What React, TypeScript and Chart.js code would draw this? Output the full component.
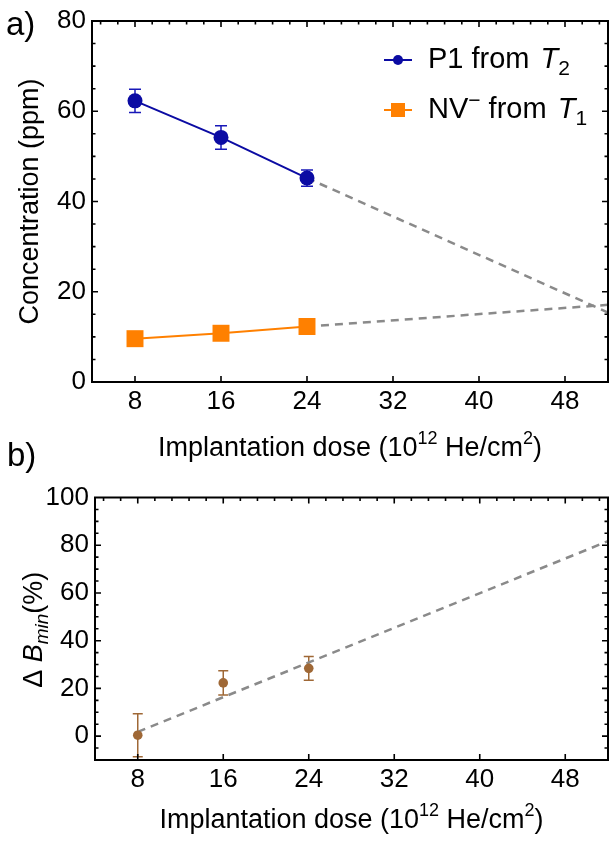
import React, { useEffect, useRef } from "react";
import { Chart, registerables } from "chart.js";

Chart.register(...registerables);

// ---------------- data ----------------
const doses = [8, 16, 24];
const p1Conc = [62.3, 54.2, 45.2];
const p1Err = [2.6, 2.6, 1.8];
const nvConc = [9.6, 10.8, 12.3];
const fitDoses = [24, 52];
const p1Fit = [45.2, 15.4];
const nvFit = [12.3, 17.1];
const doseTicks = [8, 16, 24, 32, 40, 48];
const concTicks = [0, 20, 40, 60, 80];

const dbDoses = [8, 16, 24];
const dbValues = [0.4, 22.3, 28.4];
const dbErr = [9.0, 5.1, 5.0];
const dbFitDoses = [8, 52];
const dbFit = [1.8, 81.7];
const dbTicks = [0, 20, 40, 60, 80, 100];

// ---------------- styles ----------------
const FONT = '"Liberation Sans", Arial, Helvetica, sans-serif';
const BLUE = "#0b0ba3";
const ORANGE = "#ff8000";
const BROWN = "#9f6836";
const GRAY = "#8a8a8a";
const TICK_FONT = { family: FONT, size: 26 };

type Seg = { t: string; size: number; italic?: boolean; dy?: number; dx?: number };

function fontOf(s: Seg) {
  return `${s.italic ? "italic " : ""}${s.size}px ${FONT}`;
}

function drawRich(ctx: CanvasRenderingContext2D, segs: Seg[], x: number, y: number, align: "left" | "center") {
  ctx.textAlign = "left";
  ctx.textBaseline = "alphabetic";
  const widths = segs.map((s) => {
    ctx.font = fontOf(s);
    return ctx.measureText(s.t).width + (s.dx || 0);
  });
  const total = widths.reduce((a, b) => a + b, 0);
  let cx = align === "center" ? x - total / 2 : x;
  segs.forEach((s, i) => {
    ctx.font = fontOf(s);
    ctx.fillText(s.t, cx + (s.dx || 0), y + (s.dy || 0));
    cx += widths[i];
  });
}

// pins the right edge of the plot frame
const areaPlugin = {
  id: "area",
  afterLayout(chart: any, _args: any, opts: any) {
    if (!opts || opts.right == null) return;
    const ca = chart.chartArea;
    ca.right = opts.right;
    ca.width = ca.right - ca.left;
    const xs = chart.scales.x;
    xs.right = opts.right;
    xs.width = xs.right - xs.left;
    xs.configure();
  },
};

const errorBarPlugin = {
  id: "errorBars",
  beforeDatasetsDraw(chart: any) {
    const ctx = chart.ctx;
    const xs = chart.scales.x;
    const ys = chart.scales.y;
    chart.data.datasets.forEach((ds: any) => {
      if (!ds.errors) return;
      ctx.save();
      ctx.strokeStyle = ds.errColor;
      ctx.lineWidth = ds.errWidth || 1.5;
      ds.data.forEach((p: any, i: number) => {
        const e = ds.errors[i];
        const px = xs.getPixelForValue(p.x);
        const pTop = ys.getPixelForValue(p.y + e);
        const pBot = ys.getPixelForValue(p.y - e);
        const h = ds.capHalf;
        ctx.beginPath();
        ctx.moveTo(px, pTop);
        ctx.lineTo(px, pBot);
        ctx.moveTo(px - h, pTop);
        ctx.lineTo(px + h, pTop);
        ctx.moveTo(px - h, pBot);
        ctx.lineTo(px + h, pBot);
        ctx.stroke();
      });
      ctx.restore();
    });
  },
};

const framePlugin = {
  id: "frame",
  afterDraw(chart: any, _args: any, opts: any) {
    const ctx = chart.ctx;
    const { left, right, top, bottom } = chart.chartArea;
    const xs = chart.scales.x;
    const ys = chart.scales.y;
    ctx.save();
    ctx.strokeStyle = "#000";
    ctx.lineWidth = 2;
    ctx.strokeRect(left, top, right - left, bottom - top);
    ctx.lineWidth = 1.6;
    const MAJ = 6;
    const MIN = 3.5;
    ctx.beginPath();
    opts.xMajor.forEach((v: number) => {
      const px = xs.getPixelForValue(v);
      ctx.moveTo(px, bottom);
      ctx.lineTo(px, bottom - MAJ);
    });
    const xStart = opts.xMajor[0] - Math.floor((opts.xMajor[0] - xs.min) / opts.xMinorStep) * opts.xMinorStep;
    for (let k = 0; ; k++) {
      const v = xStart + k * opts.xMinorStep;
      if (v > xs.max - 1e-6) break;
      if (v <= xs.min + 1e-6) continue;
      const isMaj = opts.xMajor.some((m: number) => Math.abs(m - v) < 1e-6);
      const px = xs.getPixelForValue(v);
      ctx.moveTo(px, top);
      ctx.lineTo(px, top + (isMaj ? MAJ : MIN));
    }
    const yStart = opts.yMajor[0] - Math.floor((opts.yMajor[0] - ys.min) / opts.yMinorStep) * opts.yMinorStep;
    for (let k = 0; ; k++) {
      const v = yStart + k * opts.yMinorStep;
      if (v > ys.max - 1e-6) break;
      if (v <= ys.min + 1e-6) continue;
      const isMaj = opts.yMajor.some((m: number) => Math.abs(m - v) < 1e-6);
      const py = ys.getPixelForValue(v);
      const len = isMaj ? MAJ : MIN;
      ctx.moveTo(left, py);
      ctx.lineTo(left + len, py);
      ctx.moveTo(right, py);
      ctx.lineTo(right - len, py);
    }
    ctx.stroke();
    ctx.restore();
  },
};

const textPlugin = {
  id: "texts",
  afterDraw(chart: any, _args: any, opts: any) {
    const ctx = chart.ctx;
    const { left, right, top, bottom } = chart.chartArea;
    ctx.save();
    ctx.fillStyle = "#000";
    drawRich(ctx, [{ t: opts.panel, size: 33 }], opts.panelX, opts.panelY, "left");
    drawRich(ctx, opts.xTitle, (left + right) / 2, opts.xTitleY, "center");
    ctx.save();
    ctx.translate(opts.yTitleX, (top + bottom) / 2 + (opts.yTitleDy || 0));
    ctx.rotate(-Math.PI / 2);
    drawRich(ctx, opts.yTitle, 0, 0, "center");
    ctx.restore();
    (opts.legend || []).forEach((it: any) => {
      ctx.save();
      ctx.strokeStyle = it.color;
      ctx.fillStyle = it.color;
      ctx.lineWidth = 2;
      ctx.beginPath();
      ctx.moveTo(it.x0, it.y);
      ctx.lineTo(it.x0 + 28, it.y);
      ctx.stroke();
      const cx = it.x0 + 14;
      if (it.shape === "circle") {
        ctx.beginPath();
        ctx.arc(cx, it.y, 5, 0, Math.PI * 2);
        ctx.fill();
      } else {
        ctx.fillRect(cx - 7, it.y - 7, 14, 14);
      }
      ctx.restore();
      ctx.fillStyle = "#000";
      drawRich(ctx, it.segs, it.textX, it.y + 8, "left");
    });
    ctx.restore();
  },
};

const xTitleSegs: Seg[] = [
  { t: "Implantation dose (10", size: 27 },
  { t: "12", size: 18, dy: -12 },
  { t: " He/cm", size: 27 },
  { t: "2", size: 18, dy: -12 },
  { t: ")", size: 27 },
];

function baseScales(yMin: number, yMax: number, yTicks: number[], yWidth: number, xHeight: number) {
  return {
    x: {
      type: "linear",
      min: 4,
      max: 52,
      grid: { display: false, drawTicks: false },
      border: { display: false },
      afterBuildTicks: (s: any) => {
        s.ticks = doseTicks.map((v) => ({ value: v }));
      },
      afterFit: (s: any) => {
        s.height = xHeight;
        s.paddingLeft = 0;
        s.paddingRight = 0;
      },
      ticks: {
        font: TICK_FONT,
        color: "#000",
        padding: 4,
        maxRotation: 0,
        autoSkip: false,
        callback: (v: any) => String(v),
      },
    },
    y: {
      type: "linear",
      min: yMin,
      max: yMax,
      grid: { display: false, drawTicks: false },
      border: { display: false },
      afterBuildTicks: (s: any) => {
        s.ticks = yTicks.map((v) => ({ value: v }));
      },
      afterFit: (s: any) => {
        s.width = yWidth;
        s.paddingTop = 0;
        s.paddingBottom = 0;
      },
      ticks: {
        font: TICK_FONT,
        color: "#000",
        padding: 6,
        autoSkip: false,
        callback: (v: any) => String(v),
      },
    },
  };
}

export default function App() {
  const refA = useRef<HTMLCanvasElement>(null);
  const refB = useRef<HTMLCanvasElement>(null);

  useEffect(() => {
    const chartA = new Chart(refA.current as HTMLCanvasElement, {
      type: "line",
      data: {
        datasets: [
          {
            label: "P1 from T2",
            data: doses.map((x, i) => ({ x, y: p1Conc[i] })),
            errors: p1Err,
            errColor: "#1818b8",
            capHalf: 6,
            borderColor: BLUE,
            backgroundColor: BLUE,
            borderWidth: 2,
            pointStyle: "circle",
            pointRadius: 7.5,
            pointBorderWidth: 0,
            order: 1,
          },
          {
            label: "NV- from T1",
            data: doses.map((x, i) => ({ x, y: nvConc[i] })),
            borderColor: ORANGE,
            backgroundColor: ORANGE,
            borderWidth: 2,
            pointStyle: "rect",
            pointRadius: 12,
            pointBorderWidth: 0,
            order: 1,
          },
          {
            label: "P1 fit",
            data: fitDoses.map((x, i) => ({ x, y: p1Fit[i] })),
            borderColor: GRAY,
            borderDash: [8, 6],
            borderWidth: 2.5,
            pointRadius: 0,
            order: 2,
          },
          {
            label: "NV fit",
            data: fitDoses.map((x, i) => ({ x, y: nvFit[i] })),
            borderColor: GRAY,
            borderDash: [8, 6],
            borderWidth: 2.5,
            pointRadius: 0,
            order: 2,
          },
        ],
      } as any,
      options: {
        responsive: false,
        animation: false,
        devicePixelRatio: 1,
        layout: { padding: { top: 21, right: 1, left: 0, bottom: 0 } },
        plugins: {
          legend: { display: false },
          tooltip: { enabled: false },
          area: { right: 608 },
          frame: { xMajor: doseTicks, xMinorStep: 1.6, yMajor: concTicks, yMinorStep: 5 },
          texts: {
            panel: "a)",
            panelX: 6,
            panelY: 35,
            xTitle: xTitleSegs,
            xTitleY: 456,
            yTitle: [{ t: "Concentration (ppm)", size: 27 }],
            yTitleX: 38,
            legend: [
              {
                color: BLUE,
                shape: "circle",
                x0: 384,
                y: 60,
                textX: 428,
                segs: [
                  { t: "P1 from ", size: 29 },
                  { t: "T", size: 29, italic: true, dx: 3 },
                  { t: "2", size: 21, dy: 7 },
                ],
              },
              {
                color: ORANGE,
                shape: "rect",
                x0: 384,
                y: 110,
                textX: 428,
                segs: [
                  { t: "NV", size: 29 },
                  { t: "\u2212", size: 21, dy: -11 },
                  { t: " from ", size: 29 },
                  { t: "T", size: 29, italic: true, dx: 3 },
                  { t: "1", size: 21, dy: 7 },
                ],
              },
            ],
          },
        } as any,
        scales: baseScales(0, 80, concTicks, 92, 88) as any,
      },
      plugins: [areaPlugin, errorBarPlugin, framePlugin, textPlugin],
    } as any);

    const chartB = new Chart(refB.current as HTMLCanvasElement, {
      type: "line",
      data: {
        datasets: [
          {
            label: "Delta B min",
            data: dbDoses.map((x, i) => ({ x, y: dbValues[i] })),
            errors: dbErr,
            errColor: BROWN,
            capHalf: 5,
            showLine: false,
            borderColor: BROWN,
            backgroundColor: BROWN,
            pointStyle: "circle",
            pointRadius: 4.8,
            pointBorderWidth: 0,
            order: 1,
          },
          {
            label: "fit",
            data: dbFitDoses.map((x, i) => ({ x, y: dbFit[i] })),
            borderColor: GRAY,
            borderDash: [8, 6],
            borderWidth: 2.5,
            pointRadius: 0,
            order: 2,
          },
        ],
      } as any,
      options: {
        responsive: false,
        animation: false,
        devicePixelRatio: 1,
        layout: { padding: { top: 72.5, right: 1, left: 0, bottom: 0 } },
        plugins: {
          legend: { display: false },
          tooltip: { enabled: false },
          area: { right: 608 },
          frame: { xMajor: doseTicks, xMinorStep: 1.6, yMajor: dbTicks, yMinorStep: 5 },
          texts: {
            panel: "b)",
            panelX: 7,
            panelY: 41,
            xTitle: xTitleSegs,
            xTitleY: 403,
            yTitle: [
              { t: "\u0394 ", size: 27 },
              { t: "B", size: 27, italic: true },
              { t: "min", size: 19, italic: true, dy: 6 },
              { t: "(%)", size: 27 },
            ],
            yTitleX: 42,
            yTitleDy: 1,
          },
        } as any,
        scales: baseScales(-10, 100, dbTicks, 95, 82) as any,
      },
      plugins: [areaPlugin, errorBarPlugin, framePlugin, textPlugin],
    } as any);

    return () => {
      chartA.destroy();
      chartB.destroy();
    };
  }, []);

  return (
    <div style={{ position: "absolute", left: 0, top: 0, width: 609, height: 842, background: "#fff", overflow: "hidden" }}>
      <canvas ref={refA} width={609} height={470} style={{ position: "absolute", left: 0, top: 0, width: 609, height: 470 }} />
      <canvas ref={refB} width={609} height={417} style={{ position: "absolute", left: 0, top: 425, width: 609, height: 417 }} />
    </div>
  );
}
